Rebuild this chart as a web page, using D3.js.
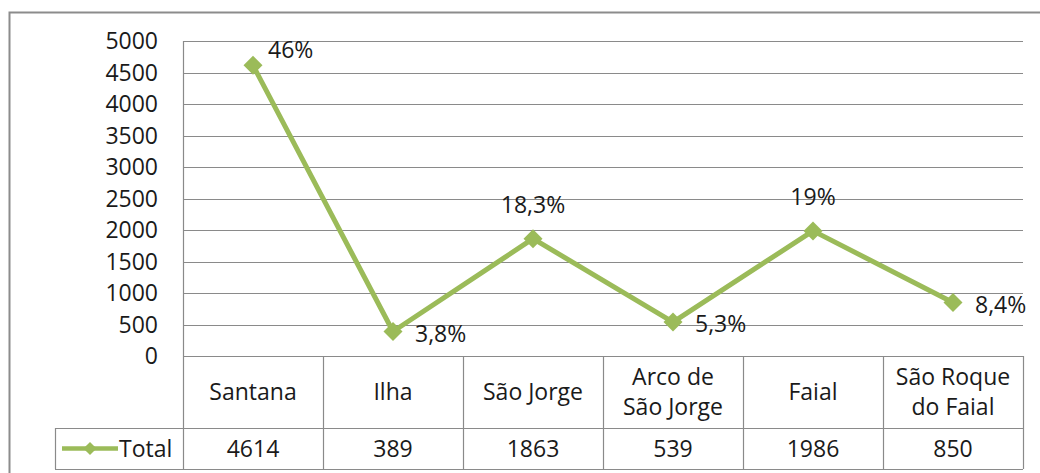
<!DOCTYPE html>
<html>
<head>
<meta charset="utf-8">
<script src="https://cdn.jsdelivr.net/npm/d3@7"></script>
<style>
  body { margin: 0; background: #fff; }
  text { font-family: "Open Sans", sans-serif; fill: #1a1a1a; }
</style>
</head>
<body>
<div id="chart"></div>
<script>
// chart data
var categories = ["Santana", "Ilha", "São Jorge", "Arco de São Jorge", "Faial", "São Roque do Faial"];
var totals = [4614, 389, 1863, 539, 1986, 850];
var shares = ["46%", "3,8%", "18,3%", "5,3%", "19%", "8,4%"];
var labelPlace = ["right", "right", "above", "right", "above", "right"];
var seriesName = "Total";
var yTicks = [0, 500, 1000, 1500, 2000, 2500, 3000, 3500, 4000, 4500, 5000];

var width = 1040, height = 473;
var plotL = 183, plotR = 1023, plotT = 41, plotB = 356;
var headBottom = 428, tableBottom = 469, legendLeft = 55;
var green = "#9bbb59", grid = "#8a8a8a";
var fontSize = 23;

var svg = d3.select("#chart").append("svg")
    .attr("width", width)
    .attr("height", height);

// outer frame (runs off the picture on the right and bottom)
svg.append("rect")
    .attr("x", 9.5).attr("y", 12.5)
    .attr("width", 1060).attr("height", 500)
    .attr("fill", "none").attr("stroke", "#8c8c8c").attr("stroke-width", 2);

var x = d3.scaleBand().domain(categories).range([plotL, plotR]);
var y = d3.scaleLinear().domain([0, 5000]).range([plotB, plotT]);

// gridlines
svg.append("g").selectAll("line").data(yTicks).enter().append("line")
    .attr("x1", plotL).attr("x2", plotR)
    .attr("y1", function(d) { return Math.round(y(d)) + 0.5; })
    .attr("y2", function(d) { return Math.round(y(d)) + 0.5; })
    .attr("stroke", grid).attr("stroke-width", 1.2);

// y tick labels
svg.append("g").selectAll("text").data(yTicks).enter().append("text")
    .attr("x", 158)
    .attr("y", function(d) { return y(d); })
    .attr("dy", "0.36em")
    .attr("text-anchor", "end")
    .style("font-size", fontSize + "px")
    .text(function(d) { return d; });

// data table lines
var tbl = svg.append("g").attr("stroke", grid).attr("stroke-width", 1.2);
tbl.append("line").attr("x1", plotL + 0.5).attr("x2", plotL + 0.5).attr("y1", plotT).attr("y2", tableBottom);
categories.forEach(function(c) {
    var xr = Math.round(x(c) + x.bandwidth()) + 0.5;
    tbl.append("line").attr("x1", xr).attr("x2", xr).attr("y1", plotB).attr("y2", tableBottom);
});
tbl.append("line").attr("x1", legendLeft).attr("x2", plotR).attr("y1", headBottom + 0.5).attr("y2", headBottom + 0.5);
tbl.append("line").attr("x1", legendLeft).attr("x2", plotR).attr("y1", tableBottom + 0.5).attr("y2", tableBottom + 0.5);
tbl.append("line").attr("x1", legendLeft + 0.5).attr("x2", legendLeft + 0.5).attr("y1", headBottom).attr("y2", tableBottom);

// category header labels, wrapped to the column
function wrapWords(str, maxW) {
    var probe = svg.append("text").style("font-size", fontSize + "px");
    var words = str.split(" "), lines = [], cur = "";
    words.forEach(function(w) {
        var t = cur ? cur + " " + w : w;
        probe.text(t);
        if (probe.node().getComputedTextLength() > maxW && cur) {
            lines.push(cur);
            cur = w;
        } else {
            cur = t;
        }
    });
    lines.push(cur);
    probe.remove();
    return lines;
}

categories.forEach(function(c) {
    var lines = wrapWords(c, x.bandwidth() - 16);
    var cy = (plotB + headBottom) / 2;
    var lh = 30;
    var t = svg.append("text")
        .attr("text-anchor", "middle")
        .style("font-size", fontSize + "px");
    lines.forEach(function(l, i) {
        t.append("tspan")
            .attr("x", x(c) + x.bandwidth() / 2)
            .attr("y", cy + (i - (lines.length - 1) / 2) * lh)
            .attr("dy", "0.36em")
            .text(l);
    });
});

// values row
var rowMid = (headBottom + tableBottom) / 2;
svg.append("g").selectAll("text").data(totals).enter().append("text")
    .attr("x", function(d, i) { return x(categories[i]) + x.bandwidth() / 2; })
    .attr("y", rowMid)
    .attr("dy", "0.36em")
    .attr("text-anchor", "middle")
    .style("font-size", fontSize + "px")
    .text(function(d) { return d; });

// legend key in the table
var diamond = d3.symbol().type(d3.symbolDiamond2).size(230);
svg.append("line")
    .attr("x1", 62).attr("x2", 118).attr("y1", rowMid).attr("y2", rowMid)
    .attr("stroke", green).attr("stroke-width", 4.5);
svg.append("path")
    .attr("d", d3.symbol().type(d3.symbolDiamond2).size(110)())
    .attr("transform", "translate(90," + rowMid + ")")
    .attr("fill", green);
svg.append("text")
    .attr("x", 119).attr("y", rowMid).attr("dy", "0.36em")
    .style("font-size", fontSize + "px")
    .text(seriesName);

// series line
var line = d3.line()
    .x(function(d, i) { return x(categories[i]) + x.bandwidth() / 2; })
    .y(function(d) { return y(d); });

svg.append("path")
    .datum(totals)
    .attr("d", line)
    .attr("fill", "none")
    .attr("stroke", green)
    .attr("stroke-width", 5)
    .attr("stroke-linejoin", "round");

svg.append("g").selectAll("path").data(totals).enter().append("path")
    .attr("d", diamond)
    .attr("transform", function(d, i) {
        return "translate(" + (x(categories[i]) + x.bandwidth() / 2) + "," + y(d) + ")";
    })
    .attr("fill", green);

// data labels
svg.append("g").selectAll("text").data(totals).enter().append("text")
    .attr("x", function(d, i) {
        var cx = x(categories[i]) + x.bandwidth() / 2;
        if (labelPlace[i] === "above") return cx;
        return i === 0 ? cx + 15 : cx + 22;
    })
    .attr("y", function(d, i) {
        if (labelPlace[i] === "above") return y(d) - 34;
        return i === 0 ? y(d) - 16 : y(d) + 2;
    })
    .attr("dy", "0.36em")
    .attr("text-anchor", function(d, i) { return labelPlace[i] === "above" ? "middle" : "start"; })
    .style("font-size", fontSize + "px")
    .text(function(d, i) { return shares[i]; });
</script>
</body>
</html>
